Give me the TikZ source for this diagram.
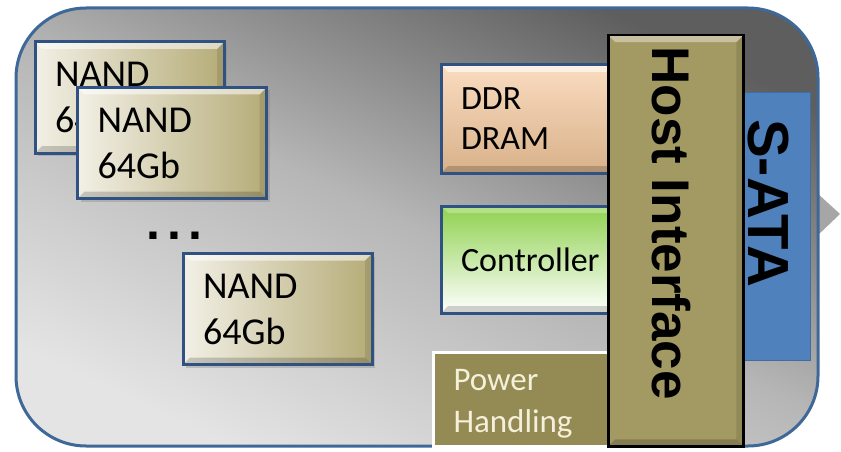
\documentclass[tikz,border=0pt]{standalone}
\usepackage{fontspec}
\setmainfont{Carlito}
\newfontfamily\arialfont{Liberation Sans}
\usetikzlibrary{shadows}
\definecolor{ssdedge}{HTML}{3D6898}
\definecolor{bgdark}{HTML}{5E5E5E}
\definecolor{bgmid}{HTML}{B6B6B6}
\definecolor{bglight}{HTML}{E4E4E4}
\definecolor{sataBlue}{HTML}{4F81BD}
\definecolor{sataEdge}{HTML}{3E6DA6}
\definecolor{hostFill}{HTML}{A39963}
\definecolor{nandEdge}{HTML}{2F5283}
\definecolor{nandLight}{HTML}{F2F0E6}
\definecolor{nandDark}{HTML}{B6AC78}
\definecolor{ddrTop}{HTML}{FADCC0}
\definecolor{ddrBot}{HTML}{D8B18A}
\definecolor{ctrlTop}{HTML}{8FD14F}
\definecolor{powerFill}{HTML}{948A54}
\definecolor{powerText}{HTML}{F4F0DA}
\definecolor{connGray}{HTML}{A6A6A6}
\tikzset{
  bevel/.style={path picture={
    \fill[white,opacity=#1] (path picture bounding box.north west) -- (path picture bounding box.north east)
      -- ([shift={(-7pt,-7pt)}]path picture bounding box.north east) -- ([shift={(7pt,-7pt)}]path picture bounding box.north west) -- cycle;
    \fill[black,opacity=0.18] (path picture bounding box.south west) -- (path picture bounding box.south east)
      -- ([shift={(-7pt,7pt)}]path picture bounding box.south east) -- ([shift={(7pt,7pt)}]path picture bounding box.south west) -- cycle;
    \fill[black,opacity=0.10] (path picture bounding box.north east) -- (path picture bounding box.south east)
      -- ([shift={(-7pt,7pt)}]path picture bounding box.south east) -- ([shift={(-7pt,-7pt)}]path picture bounding box.north east) -- cycle;
  }},
  ssdbox/.style={draw=ssdedge, line width=3pt, rounded corners=70pt, top color=bgdark, bottom color=bglight, middle color=bgmid, shading angle=-25,
    minimum width=802pt, minimum height=438pt, anchor=north west, inner sep=0pt},
  nandbox/.style={draw=nandEdge, line width=3pt, left color=nandLight, right color=nandDark, bevel=0.55,
    drop shadow={shadow xshift=3pt, shadow yshift=-3pt, opacity=0.35},
    anchor=north west, inner xsep=20pt, inner ysep=0pt, text width=149pt, minimum height=111pt, align=left,
    font=\fontsize{38}{46}\selectfont, text=black},
  ddrbox/.style={draw=nandEdge, line width=3pt, top color=ddrTop, bottom color=ddrBot, bevel=0.6,
    anchor=north west, inner xsep=20pt, inner ysep=0pt, text width=150pt, minimum height=108pt, align=left,
    font=\fontsize{34}{40}\selectfont, text=black},
  ctrlbox/.style={draw=nandEdge, line width=3pt, top color=ctrlTop, bottom color=white, bevel=0.3,
    anchor=north west, inner xsep=20pt, inner ysep=0pt, text width=150pt, minimum height=107pt, align=left,
    font=\fontsize{34}{40}\selectfont, text=black},
  powerbox/.style={draw=white, line width=3pt, fill=powerFill, text=powerText,
    anchor=north west, inner xsep=20.5pt, inner ysep=0pt, text width=150pt, minimum height=94pt, align=left, text depth=38pt,
    font=\fontsize{33}{42}\selectfont},
  hostbox/.style={draw=black, line width=2.5pt, fill=hostFill, bevel=0.4, anchor=north west, inner sep=0pt,
    minimum width=135pt, minimum height=411pt},
  satabox/.style={draw=sataEdge, line width=1pt, fill=sataBlue, anchor=north west, inner sep=0pt,
    minimum width=67pt, minimum height=267pt},
  bigtext/.style={rotate=-90, inner sep=0pt, text=black, font=\arialfont\bfseries\fontsize{#1}{#1}\selectfont},
}
\begin{document}
\begin{tikzpicture}[x=1pt,y=-1pt]
\useasboundingbox (0,0) rectangle (841,452);
% connector notch
\fill[connGray] (816,192) -- (840,214) -- (816,237) -- cycle;
% SSD body
\node[ssdbox] (ssd) at (14.5,6.5) {};
% S-ATA
\node[satabox] (sata) at (742.5,92.5) {};
\path (sata.center) ++(-8.5,-23) node[bigtext=58] (satalabel) {S-ATA};
% NAND chips
\node[nandbox] (nand1) at (33.5,40.5) {NAND\\64Gb};
\node[nandbox] (nand2) at (76,86) {NAND\\64Gb};
\node[anchor=base west, inner sep=0pt, font=\arialfont\bfseries\fontsize{50}{50}\selectfont] (dots) at (146,239.5) {.\kern7pt.\kern7pt.};
\node[nandbox] (nand3) at (181.5,252) {NAND\\64Gb};
% DRAM, controller, power
\node[ddrbox] (ddr) at (439.5,63.5) {DDR\\DRAM};
\node[ctrlbox] (ctrl) at (439.5,204.5) {Controller};
\node[powerbox] (power) at (431.5,350.5) {Power\\Handling};
% host interface
\node[hostbox] (host) at (607,34) {};
\path (host.center) ++(-4.5,-17.5) node[bigtext=53] (hostlabel) {Host Interface};
\end{tikzpicture}
\end{document}
